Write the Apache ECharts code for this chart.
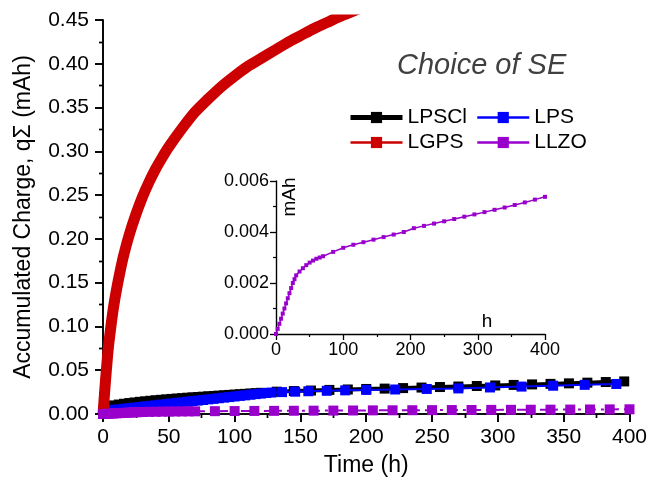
<!DOCTYPE html>
<html><head><meta charset="utf-8">
<script src="https://cdn.jsdelivr.net/npm/echarts@6/dist/echarts.min.js"></script>
<style>html,body{margin:0;padding:0;background:#fff}#c{width:650px;height:488px}</style>
</head><body><div id="c"></div>
<script>
const seriesNames = ['LPSCl', 'LPS', 'LGPS', 'LLZO'];
const chartTitle = 'Choice of SE';
const xTitle = 'Time (h)';
const yTitle = 'Accumulated Charge, qΣ (mAh)';
const insetYTitle = 'mAh';
const insetXTitle = 'h';

const lpsclTime = [4,8,12,16,20,24,28,32,36,40,44,48,52,56,60,64,68,72,76,80,84,88,92,96,100,104,108,112,116,120,
  132,145,158,172,186,200,214,228,242,256,270,284,298,312,326,340,354,368,382,396];
const lpsclCharge = [0.0085,0.0098,0.0108,0.0117,0.0125,0.0132,0.0139,0.0145,0.0151,0.0157,0.0162,0.0167,0.0172,0.0177,0.0181,0.0186,0.019,0.0194,0.0198,0.0202,0.0206,0.021,0.0214,0.0218,0.0222,0.0226,0.023,0.0234,0.0238,0.0242,
  0.0255,0.0262,0.0268,0.0275,0.028,0.0286,0.029,0.0296,0.0302,0.0308,0.0314,0.032,0.0326,0.0332,0.0338,0.0344,0.035,0.0358,0.0365,0.0372];

const lpsTime = [4,8,12,16,20,24,28,32,36,40,44,48,52,56,60,64,68,72,76,80,84,88,92,96,100,104,108,112,116,120,124,128,
  136,146,156,170,184,200,222,246,270,294,318,342,366,390];
const lpsCharge = [0.004,0.0047,0.0053,0.006,0.0067,0.0073,0.008,0.0087,0.0093,0.01,0.0107,0.0113,0.012,0.0127,0.0133,0.014,0.0147,0.0153,0.016,0.0167,0.0173,0.018,0.0187,0.0193,0.02,0.0207,0.0213,0.022,0.0227,0.0233,0.024,0.0245,
  0.025,0.0255,0.026,0.0265,0.027,0.0275,0.028,0.0286,0.0292,0.0303,0.0313,0.0323,0.0333,0.0343];

const lgpsTime = [0,1,2,3,4,6,8,10,13,16,20,25,30,35,40,45,50,60,70,80,90,100,110,120,130,140,150,160,170,180,190,200];
const lgpsCharge = [0,0.02,0.04,0.058,0.075,0.1,0.122,0.14,0.163,0.183,0.205,0.228,0.248,0.265,0.28,0.293,0.305,0.326,0.345,0.36,0.374,0.386,0.397,0.406,0.415,0.424,0.432,0.44,0.447,0.454,0.46,0.466];

const llzoTime = [0,2.5,5,7.5,10,12.5,15,17.5,20,22.5,25,27.5,30,35,40,45,50,55,60,65,70,85,100,115,130,145,160,175,190,205,220,235,250,265,280,295,310,325,340,355,370,385,400];
const llzoCharge = [0,0.0002,0.0004,0.0006,0.0008,0.001,0.0012,0.0014,0.0016,0.0018,0.002,0.00215,0.0023,0.00245,0.00258,0.0027,0.0028,0.00288,0.00295,0.003,0.00305,0.00322,0.00338,0.0035,0.0036,0.0037,0.0038,0.0039,0.004,0.00415,0.00424,0.00433,0.00442,0.00451,0.0046,0.00469,0.00478,0.00487,0.00496,0.00506,0.00516,0.00527,0.00538];

const pairs = (t, v) => t.map((x, i) => [x, v[i]]);
const FONT = 'Liberation Sans, Arial, sans-serif';
const colors = {LPSCl:'#000000', LPS:'#0000FF', LGPS:'#CC0000', LLZO:'#9900CC'};

const chart = echarts.init(document.getElementById('c'), null, {renderer:'canvas'});
const axisLine = {show:true, lineStyle:{color:'#000', width:1.6}};
chart.setOption({
  animation:false,
  backgroundColor:'#fff',
  textStyle:{fontFamily:FONT},
  grid:[
    {left:103, right:17, top:20, bottom:74, containLabel:false},
    {left:276, top:181, width:269, height:153, containLabel:false}
  ],
  xAxis:[
    {type:'value', gridIndex:0, min:0, max:400, interval:50, position:'bottom',
     axisLine:axisLine, axisTick:{show:true, inside:false, length:8, lineStyle:{width:1.6,color:'#000'}},
     minorTick:{show:true, splitNumber:2, length:4, lineStyle:{width:1.4,color:'#000'}},
     splitLine:{show:false},
     axisLabel:{fontSize:21, color:'#000', margin:13, fontFamily:FONT},
     name:xTitle, nameLocation:'middle', nameGap:40, nameTextStyle:{fontSize:23, color:'#000', fontFamily:FONT}},
    {type:'value', gridIndex:0, min:0, max:400, interval:50, position:'top',
     axisLine:axisLine, axisTick:{show:true, inside:true, length:8, lineStyle:{width:1.6,color:'#000'}},
     minorTick:{show:true, splitNumber:2, length:4, lineStyle:{width:1.4,color:'#000'}},
     splitLine:{show:false}, axisLabel:{show:false}},
    {type:'value', gridIndex:1, min:0, max:400, interval:100,
     axisLine:{show:true, lineStyle:{color:'#000', width:1.4}},
     axisTick:{show:true, inside:false, length:6, lineStyle:{width:1.3,color:'#000'}},
     minorTick:{show:true, splitNumber:2, length:3, lineStyle:{width:1.2,color:'#000'}},
     splitLine:{show:false},
     axisLabel:{fontSize:18, color:'#000', margin:7, fontFamily:FONT}}
  ],
  yAxis:[
    {type:'value', gridIndex:0, min:0, max:0.45, interval:0.05, position:'left',
     axisLine:axisLine, axisTick:{show:true, inside:false, length:8, lineStyle:{width:1.6,color:'#000'}},
     minorTick:{show:true, splitNumber:2, length:4, lineStyle:{width:1.4,color:'#000'}},
     splitLine:{show:false},
     axisLabel:{fontSize:21, color:'#000', margin:14, fontFamily:FONT, formatter:v=>v.toFixed(2)},
     name:yTitle, nameLocation:'middle', nameGap:68, nameRotate:90, nameTextStyle:{fontSize:23, color:'#000', fontFamily:FONT}},
    {type:'value', gridIndex:0, min:0, max:0.45, interval:0.05, position:'right',
     axisLine:axisLine, axisTick:{show:true, inside:true, length:8, lineStyle:{width:1.6,color:'#000'}},
     minorTick:{show:true, splitNumber:2, length:4, lineStyle:{width:1.4,color:'#000'}},
     splitLine:{show:false}, axisLabel:{show:false}},
    {type:'value', gridIndex:1, min:0, max:0.006, interval:0.002,
     axisLine:{show:true, lineStyle:{color:'#000', width:1.4}},
     axisTick:{show:true, inside:false, length:6, lineStyle:{width:1.3,color:'#000'}},
     minorTick:{show:true, splitNumber:2, length:3, lineStyle:{width:1.2,color:'#000'}},
     splitLine:{show:false},
     axisLabel:{fontSize:18, color:'#000', margin:7, fontFamily:FONT, formatter:v=>v.toFixed(3)}}
  ],
  legend:[
    {orient:'vertical', left:343, top:102, itemWidth:52, itemHeight:14, itemGap:4,
     textStyle:{fontSize:21, color:'#000', fontFamily:FONT},
     data:[{name:seriesNames[0], lineStyle:{width:5}}, {name:seriesNames[2], lineStyle:{width:2.5}}]},
    {orient:'vertical', left:471, top:102, itemWidth:52, itemHeight:14, itemGap:4,
     textStyle:{fontSize:21, color:'#000', fontFamily:FONT},
     data:[{name:seriesNames[1], lineStyle:{width:2.5}}, {name:seriesNames[3], lineStyle:{width:2.5, type:'solid'}}]}
  ],
  graphic:[
    {type:'text', left:397, top:51, style:{text:chartTitle, font:'italic 29px Liberation Sans, Arial, sans-serif', fill:'#404040'}},
    {type:'text', x:290, y:197, rotation:Math.PI/2, style:{text:insetYTitle, font:'19px Liberation Sans, Arial, sans-serif', fill:'#000', align:'center', verticalAlign:'middle'}},
    {type:'text', x:487, y:322, style:{text:insetXTitle, font:'19px Liberation Sans, Arial, sans-serif', fill:'#000', align:'center', verticalAlign:'middle'}}
  ],
  series:[
    {name:seriesNames[0], type:'line', xAxisIndex:0, yAxisIndex:0, data:pairs(lpsclTime, lpsclCharge),
     symbol:'rect', symbolSize:10, showAllSymbol:true, color:colors.LPSCl,
     lineStyle:{width:4, color:colors.LPSCl}, itemStyle:{color:colors.LPSCl}, z:2},
    {name:seriesNames[1], type:'line', xAxisIndex:0, yAxisIndex:0, data:pairs(lpsTime, lpsCharge),
     symbol:'rect', symbolSize:10, showAllSymbol:true, color:colors.LPS,
     lineStyle:{width:2, color:colors.LPS}, itemStyle:{color:colors.LPS}, z:3},
    {name:seriesNames[2], type:'line', xAxisIndex:0, yAxisIndex:0, data:pairs(lgpsTime, lgpsCharge),
     symbol:'rect', symbolSize:10, showSymbol:false, smooth:0.3, color:colors.LGPS,
     lineStyle:{width:11, color:colors.LGPS}, itemStyle:{color:colors.LGPS}, z:4},
    {name:seriesNames[3], type:'line', xAxisIndex:0, yAxisIndex:0, data:pairs(llzoTime, llzoCharge),
     symbol:'rect', symbolSize:10, showAllSymbol:true, color:colors.LLZO,
     lineStyle:{width:2, color:colors.LLZO, type:[10,5,3,5]}, itemStyle:{color:colors.LLZO}, z:5},
    {name:seriesNames[3] + ' inset', type:'line', xAxisIndex:2, yAxisIndex:2, data:pairs(llzoTime, llzoCharge),
     symbol:'rect', symbolSize:4, showAllSymbol:true, color:colors.LLZO,
     lineStyle:{width:1.5, color:colors.LLZO}, itemStyle:{color:colors.LLZO}, z:5}
  ]
});
</script>
</body></html>
